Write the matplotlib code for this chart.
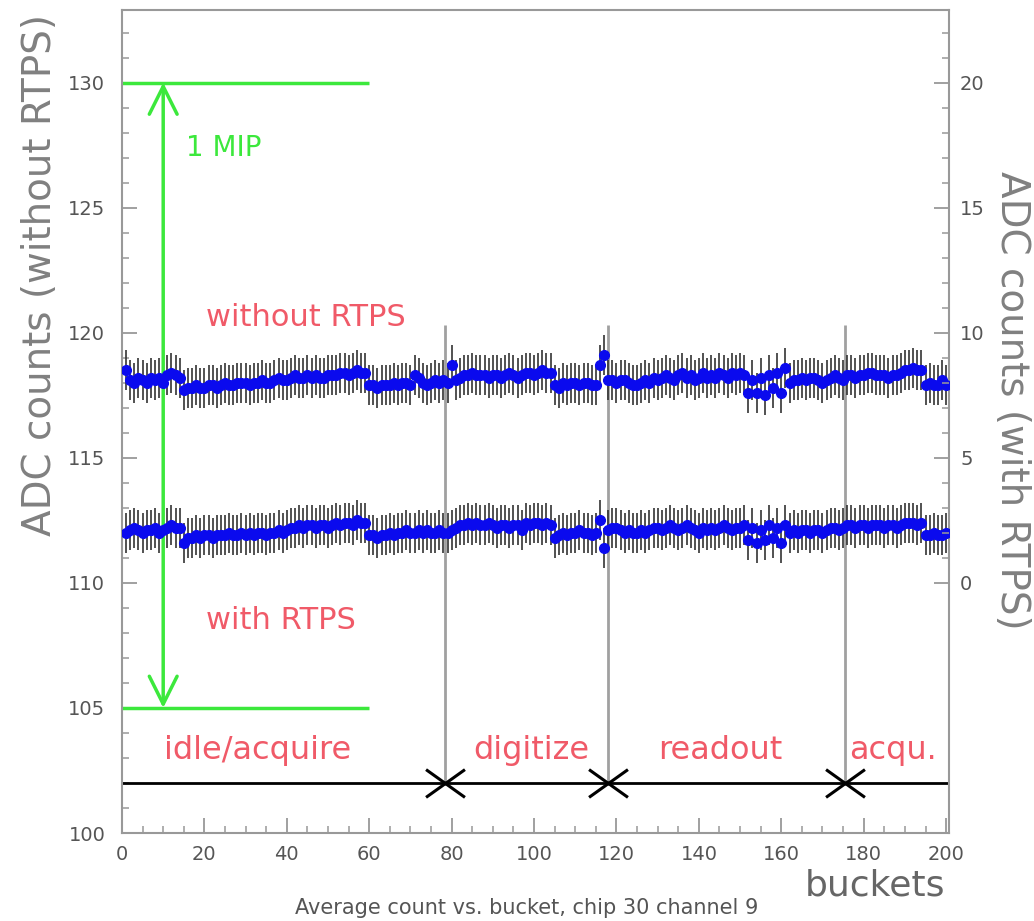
import numpy as np
import matplotlib.pyplot as plt
from matplotlib.path import Path
from matplotlib.ticker import MultipleLocator, FixedLocator

# average ADC count per bucket
without_rtps = [
    118.5, 118.1, 118.0, 118.2, 118.1, 118.0, 118.2, 118.1, 118.2, 118.0, 118.3, 118.4, 118.3, 118.2,
    117.7,
    117.8, 117.8, 117.9, 117.8, 117.8, 117.9, 117.9, 117.8, 117.9, 118.0, 117.9, 117.9, 118.0,
    118.0, 118.0, 117.9, 118.0, 118.0, 118.1, 118.0, 118.0, 118.1, 118.2, 118.1, 118.1,
    118.2, 118.3, 118.2, 118.2, 118.3, 118.2, 118.3, 118.2, 118.2, 118.3, 118.3, 118.3, 118.4, 118.4,
    118.3, 118.4, 118.5, 118.4, 118.4,
    117.9, 117.9, 117.8, 117.9, 117.9, 117.9, 118.0, 117.9, 118.0, 118.0, 117.9,
    118.3, 118.2, 118.0, 117.9, 118.0, 118.1, 118.0, 118.1, 118.0,
    118.7,
    118.1, 118.2, 118.3, 118.3, 118.4, 118.3, 118.3, 118.3, 118.2, 118.3, 118.3, 118.2, 118.3, 118.4,
    118.3, 118.2, 118.3,
    118.4, 118.4, 118.3, 118.4, 118.5, 118.4, 118.4,
    117.9, 117.8, 118.0, 117.9, 118.0, 118.0, 117.9, 118.0, 118.0, 117.9, 117.9,
    118.7, 119.1,
    118.1, 118.1, 118.0, 118.1, 118.1, 118.0, 117.9, 117.9,
    118.0, 118.1, 118.0, 118.2, 118.1, 118.2, 118.3, 118.2, 118.1, 118.3, 118.4, 118.2, 118.3, 118.1,
    118.2, 118.4, 118.2, 118.3, 118.2, 118.4, 118.3, 118.2, 118.4, 118.3, 118.4,
    118.3, 117.6, 118.1, 117.6, 118.2, 117.5, 118.3, 117.8, 118.4, 117.6, 118.6,
    118.0, 118.1, 118.1, 118.2, 118.1, 118.2, 118.2, 118.1, 118.0, 118.1, 118.2, 118.3, 118.2, 118.1,
    118.3, 118.3, 118.2, 118.3, 118.3, 118.4, 118.4, 118.3, 118.3, 118.3, 118.2, 118.3, 118.3, 118.4,
    118.5, 118.5, 118.6, 118.5, 118.5,
    117.9, 118.0, 117.9, 117.9, 118.1, 117.9,
]
with_rtps = [
    112.0, 112.1, 112.2, 112.1, 112.0, 112.1, 112.1, 112.2, 112.0, 112.1, 112.2, 112.3, 112.2, 112.2,
    111.6,
    111.8, 111.8, 111.9, 111.8, 111.9, 111.9, 111.8, 111.9, 111.9, 111.9, 112.0, 111.9, 111.9,
    112.0, 111.9, 112.0, 111.9, 112.0, 112.0, 111.9, 112.0, 112.0, 112.1, 112.0, 112.1,
    112.2, 112.2, 112.3, 112.2, 112.3, 112.3, 112.2, 112.3, 112.3, 112.2, 112.3, 112.4, 112.3, 112.4,
    112.4, 112.3, 112.5, 112.4, 112.4,
    111.9, 111.9, 111.8, 111.9, 111.9, 112.0, 111.9, 112.0, 112.0, 112.1, 112.0,
    112.0, 112.1, 112.0, 112.1, 112.0, 112.0, 112.1, 112.0, 112.0,
    112.1,
    112.2, 112.3, 112.3, 112.4, 112.3, 112.4, 112.3, 112.3, 112.4, 112.3, 112.2, 112.3, 112.3, 112.2,
    112.3, 112.3, 112.1,
    112.4, 112.3, 112.4, 112.4, 112.3, 112.4, 112.3,
    111.8, 111.9, 112.0, 111.9, 112.0, 112.0, 112.1, 112.0, 112.0, 111.9, 112.0,
    112.5, 111.4,
    112.1, 112.2, 112.2, 112.1, 112.0, 112.1, 112.0, 112.0,
    112.1, 112.0, 112.1, 112.2, 112.2, 112.1, 112.2, 112.3, 112.2, 112.1, 112.2, 112.3, 112.2, 112.1,
    112.0, 112.2, 112.1, 112.2, 112.1, 112.2, 112.3, 112.2, 112.1, 112.2, 112.2,
    112.3, 111.7, 112.2, 111.6, 112.1, 111.7, 112.3, 111.8, 112.2, 111.6, 112.3,
    112.0, 112.1, 112.0, 112.1, 112.1, 112.0, 112.1, 112.1, 112.0, 112.1, 112.2, 112.2, 112.1, 112.2,
    112.3, 112.3, 112.2, 112.3, 112.3, 112.2, 112.3, 112.3, 112.3, 112.2, 112.3, 112.3, 112.2, 112.3,
    112.4, 112.4, 112.4, 112.3, 112.4,
    111.9, 111.9, 112.0, 111.9, 111.9, 112.0,
]
err_size = 0.8
buckets = np.arange(1, len(without_rtps) + 1)

phase_edges = [78.5, 118, 175.5]
phase_names = ['idle/acquire', 'digitize', 'readout', 'acqu.']
phase_text_x = [10.2, 85.2, 130, 176.5]
mip_low, mip_high = 105, 130

red = '#f05a68'
green = '#3ce83c'
grey_txt = '#555555'
frame = '#999999'

fig = plt.figure(figsize=(10.34, 9.21), dpi=100)
ax = fig.add_axes([122 / 1034, 1 - 833 / 921, 827 / 1034, 823 / 921])

for series in (without_rtps, with_rtps):
    ax.errorbar(buckets, series, yerr=err_size, fmt='o', ms=7, color='#0a0aee',
                ecolor='#333333', elinewidth=1.2, capsize=0, zorder=3)

# phase boundaries
ax.axhline(102, color='black', lw=2, zorder=2)
ax.vlines(phase_edges, 102, 120.3, color='#a0a0a0', lw=2, zorder=1)
xmark = Path([(-1.4, -1), (1.4, 1), (-1.4, 1), (1.4, -1)],
             [Path.MOVETO, Path.LINETO, Path.MOVETO, Path.LINETO])
ax.plot(phase_edges, [102] * len(phase_edges), linestyle='none', marker=xmark,
        ms=28, mec='black', mew=2.2, zorder=4)
for name, xt in zip(phase_names, phase_text_x):
    ax.text(xt, 103.3, name, color=red, fontsize=23, va='center')

ax.text(20.3, 120.6, 'without RTPS', color=red, fontsize=22, va='center')
ax.text(20.3, 108.5, 'with RTPS', color=red, fontsize=22, va='center')

# 1 MIP scale
ax.hlines([mip_high, mip_low], 0, 60, color=green, lw=2.5)
ax.annotate('', xy=(10, mip_low), xytext=(10, mip_high),
            arrowprops=dict(arrowstyle='<->,head_length=2.0,head_width=1.0',
                            color=green, lw=2.5, shrinkA=0, shrinkB=0))
ax.text(15.5, 127.4, '1 MIP', color=green, fontsize=20, va='center')

ax.set_xlim(0, 200.7)
ax.set_ylim(100, 132.9)
ax.xaxis.set_major_locator(MultipleLocator(20))
ax.xaxis.set_minor_locator(MultipleLocator(5))
ax.yaxis.set_major_locator(MultipleLocator(5))
ax.yaxis.set_minor_locator(MultipleLocator(1))
ax.tick_params(which='both', direction='in', colors=frame, labelcolor=grey_txt,
               labelsize=14, top=False, right=False)
ax.tick_params(which='major', length=11, width=1.3)
ax.tick_params(which='minor', length=5, width=1.1)
ax.tick_params(axis='y', pad=12)
ax.tick_params(axis='x', pad=9)
for sp in ax.spines.values():
    sp.set_color(frame)
    sp.set_linewidth(1.5)

ax2 = ax.twinx()
ax2.set_ylim(100 - 110, 132.9 - 110)
ax2.yaxis.set_major_locator(FixedLocator([0, 5, 10, 15, 20]))
ax2.yaxis.set_minor_locator(FixedLocator(list(range(0, 23))))
ax2.tick_params(which='both', direction='in', colors=frame, labelcolor=grey_txt,
                labelsize=14, pad=8)
ax2.tick_params(which='major', length=11, width=1.3)
ax2.tick_params(which='minor', length=5, width=1.1)
for sp in ax2.spines.values():
    sp.set_visible(False)

fig.text(40 / 1034, 1 - 275 / 921, 'ADC counts (without RTPS)', rotation=90,
         ha='center', va='center', fontsize=28, color='#808080')
fig.text(1012 / 1034, 1 - 400 / 921, 'ADC counts (with RTPS)', rotation=270,
         ha='center', va='center', fontsize=28, color='#808080')
fig.text(945 / 1034, 1 - 885 / 921, 'buckets', ha='right', va='center',
         fontsize=26, color='#666666')
fig.text(527 / 1034, 1 - 908 / 921, 'Average count vs. bucket, chip 30 channel 9',
         ha='center', va='center', fontsize=15, color='#555555')

fig.savefig('out.png', dpi=100)
